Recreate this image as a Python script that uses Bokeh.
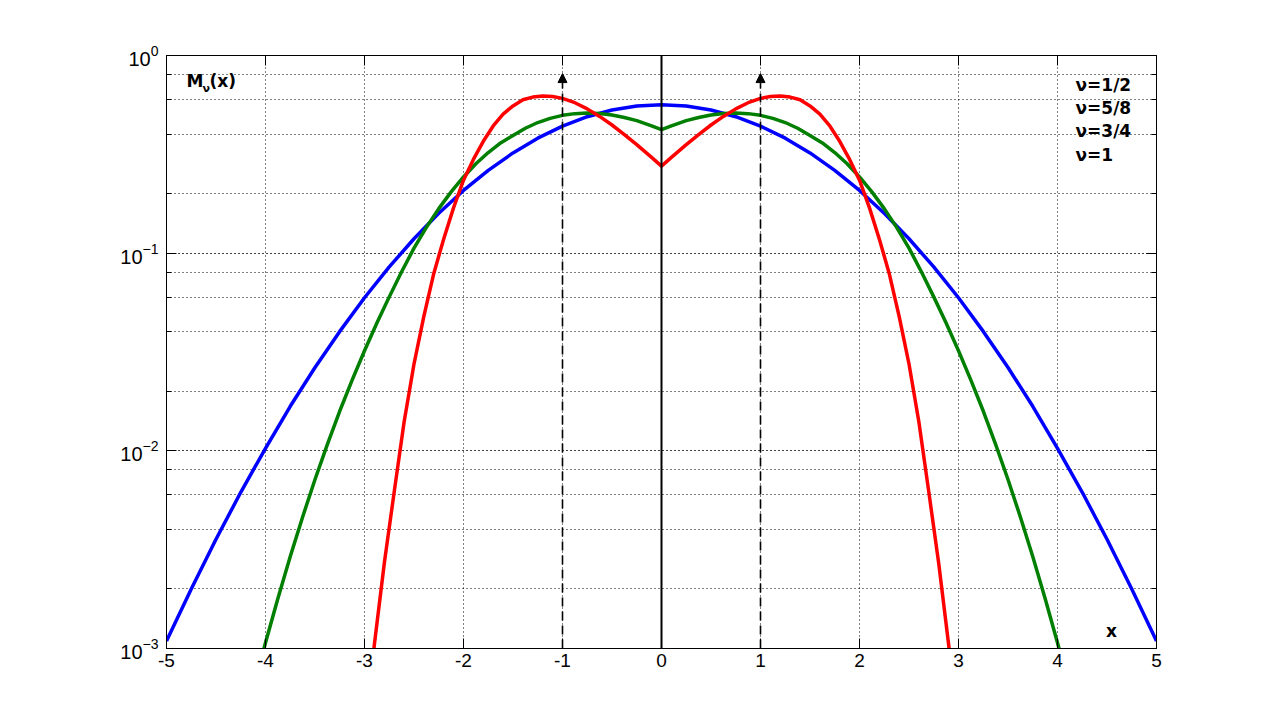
from bokeh.plotting import figure
from bokeh.models import (Range1d, LinearAxis, LogAxis, FixedTicker, LogTicker,
                          LogTickFormatter, CustomJSTickFormatter, Label, Arrow,
                          NormalHead)
from bokeh.embed import file_html
from bokeh.resources import INLINE

# ---- data (right half, curves are symmetric in x) ----
x_nu_half = [0, 0.25, 0.5, 0.75, 1.0, 1.25, 1.5, 1.75, 2.0, 2.25, 2.5, 2.75,
             3.0, 3.25, 3.5, 3.75, 4.0, 4.25, 4.5, 4.75, 5.0]
m_nu_half = [0.5642, 0.5555, 0.5300, 0.4902, 0.4394, 0.3818, 0.3215, 0.2624,
             0.2076, 0.1591, 0.1183, 0.0852, 0.0595, 0.0402, 0.0264, 0.0168,
             0.0103, 0.00617, 0.00357, 0.00200, 0.00109]

x_nu_5_8 = [0, 0.1, 0.25, 0.375, 0.5, 0.625, 0.75, 0.875, 1.0, 1.125, 1.25,
            1.375, 1.5, 1.625, 1.75, 1.875, 2.0, 2.125, 2.25, 2.375, 2.5,
            2.625, 2.75, 2.875, 3.0, 3.125, 3.25, 3.375, 3.5, 3.625, 3.75,
            3.875, 4.0, 4.125, 4.25]
m_nu_5_8 = [0.422, 0.441, 0.468, 0.486, 0.500, 0.509, 0.512, 0.508, 0.498,
            0.481, 0.458, 0.4285, 0.394, 0.361, 0.323, 0.2835, 0.243, 0.2043,
            0.168, 0.135, 0.106, 0.0805, 0.0601, 0.0443, 0.0321, 0.0228,
            0.0159, 0.01079, 0.00716, 0.00463, 0.00292, 0.00179, 0.00107,
            0.00062, 0.00035]

x_nu_3_4 = [0, 0.1, 0.25, 0.375, 0.5, 0.625, 0.75, 0.875, 1.0, 1.1, 1.2, 1.3,
            1.4, 1.5, 1.6, 1.7, 1.8, 1.9, 2.0, 2.1, 2.2, 2.3, 2.4, 2.5, 2.6,
            2.7, 2.8, 2.9, 3.0]
m_nu_3_4 = [0.2757, 0.305, 0.354, 0.398, 0.445, 0.492, 0.537, 0.577, 0.607,
            0.620, 0.624, 0.616, 0.597, 0.556, 0.505, 0.440, 0.368, 0.298,
            0.234, 0.170, 0.118, 0.079, 0.048, 0.0275, 0.0140, 0.0062, 0.0027,
            0.00105, 0.00036]

# nu = 1: delta spikes at x = -1 and x = +1
delta_x = [-1, 1]
delta_top = 0.81
center_line_x = [0, 0]
center_line_y = [1e-3, 1.0]

x_ticks = [-5, -4, -3, -2, -1, 0, 1, 2, 3, 4, 5]
legend_labels = ["\u03bd=1/2", "\u03bd=5/8", "\u03bd=3/4", "\u03bd=1"]
legend_y = [0.713, 0.543, 0.413, 0.312]


def mirror(xs, ys):
    return [-v for v in xs[:0:-1]] + list(xs), list(ys[:0:-1]) + list(ys)


FONT = "Liberation Sans"
BFONT = "DejaVu Sans"

p = figure(width=1261, height=712, x_range=Range1d(-5, 5),
           y_range=Range1d(1e-3, 1.0), y_axis_type="log",
           output_backend="svg", toolbar_location=None,
           min_border_left=166, min_border_right=105,
           min_border_top=55, min_border_bottom=64)
p.background_fill_color = "white"
p.border_fill_color = "white"
p.outline_line_color = "black"
p.outline_line_width = 1

empty = CustomJSTickFormatter(code="return ''")

# bottom x axis
p.xaxis.ticker = FixedTicker(ticks=x_ticks)
p.xaxis.formatter = CustomJSTickFormatter(code="return tick.toFixed(0)")
p.xaxis.major_tick_in = 10
p.xaxis.major_tick_out = 0
p.xaxis.minor_tick_in = 0
p.xaxis.minor_tick_out = 0
p.xaxis.major_label_text_font = FONT
p.xaxis.major_label_text_font_size = "19px"
p.xaxis.major_label_text_color = "black"
p.xaxis.major_label_standoff = 5
p.xaxis.axis_line_color = "black"

# left y axis with 10^k labels
p.yaxis.ticker = LogTicker()
p.yaxis.formatter = LogTickFormatter()
p.yaxis.major_tick_in = 10
p.yaxis.major_tick_out = 0
p.yaxis.minor_tick_in = 5
p.yaxis.minor_tick_out = 0
p.yaxis.major_label_text_font = FONT
p.yaxis.major_label_text_font_size = "20px"
p.yaxis.major_label_text_color = "black"
p.yaxis.major_label_standoff = 8
p.yaxis.axis_line_color = "black"

top = LinearAxis(ticker=FixedTicker(ticks=x_ticks), formatter=empty,
                 major_tick_in=10, major_tick_out=0, minor_tick_in=0,
                 minor_tick_out=0, axis_line_color="black")
p.add_layout(top, "above")
right = LogAxis(ticker=LogTicker(), formatter=empty, major_tick_in=10,
                major_tick_out=0, minor_tick_in=5, minor_tick_out=0,
                axis_line_color="black")
p.add_layout(right, "right")

# dotted grid
p.xgrid.ticker = FixedTicker(ticks=x_ticks)
for g in (p.xgrid, p.ygrid):
    g.grid_line_color = "black"
    g.grid_line_dash = "1 3"
    g.grid_line_width = 1
p.ygrid.minor_grid_line_color = "black"
p.ygrid.minor_grid_line_dash = "1 3"
p.ygrid.minor_grid_line_width = 1

# curves
xb, yb = mirror(x_nu_half, m_nu_half)
xg, yg = mirror(x_nu_5_8, m_nu_5_8)
xr, yr = mirror(x_nu_3_4, m_nu_3_4)
p.line(xb, yb, line_color="#0000FF", line_width=3.5, line_join="round")
p.line(xg, yg, line_color="#007F00", line_width=3.5, line_join="round")
p.line(xr, yr, line_color="#FF0000", line_width=3.5, line_join="round")

# central line and delta arrows
p.line(center_line_x, center_line_y, line_color="black", line_width=2)
for xv in delta_x:
    p.add_layout(Arrow(end=NormalHead(size=9, fill_color="black",
                                      line_color="black", line_width=1),
                       x_start=xv, y_start=1e-3, x_end=xv, y_end=delta_top,
                       line_color="black", line_width=1.6,
                       line_dash="9 5"))

# legend texts
for lab, ly in zip(legend_labels, legend_y):
    p.add_layout(Label(x=5, y=ly, x_offset=-81, text=lab,
                       text_align="left", text_baseline="middle",
                       text_font=BFONT, text_font_style="bold",
                       text_font_size="17px", text_color="black"))

# axis titles
p.add_layout(Label(x=-5, y=0.747, x_offset=20, text="M", text_align="left",
                   text_baseline="middle", text_font=BFONT,
                   text_font_style="bold", text_font_size="17px",
                   text_color="black"))
p.add_layout(Label(x=-5, y=0.747, x_offset=36, y_offset=-8, text="\u03bd",
                   text_align="left", text_baseline="middle", text_font=BFONT,
                   text_font_style="bold", text_font_size="11px",
                   text_color="black"))
p.add_layout(Label(x=-5, y=0.747, x_offset=43, text="(x)", text_align="left",
                   text_baseline="middle", text_font=BFONT,
                   text_font_style="bold", text_font_size="17px",
                   text_color="black"))
p.add_layout(Label(x=5, y=1e-3, x_offset=-45, y_offset=18, text="x",
                   text_align="center", text_baseline="middle",
                   text_font=BFONT, text_font_style="bold",
                   text_font_size="17px", text_color="black"))

open("out.html", "w").write(file_html(p, INLINE))
